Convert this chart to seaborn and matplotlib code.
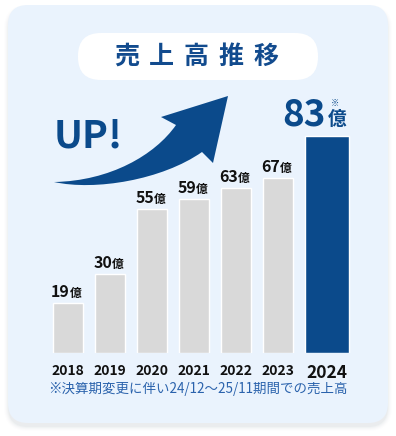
import matplotlib

matplotlib.use("Agg")
import matplotlib.pyplot as plt  # noqa: E402
import seaborn as sns  # noqa: E402
from matplotlib.patches import FancyBboxPatch, PathPatch  # noqa: E402
from matplotlib.path import Path  # noqa: E402

# --- data -------------------------------------------------------------------
YEARS = ["2018", "2019", "2020", "2021", "2022", "2023", "2024"]
SALES = [19, 30, 55, 59, 63, 67, 83]
UNIT = "億"
TITLE = "売上高推移"
BADGE = "UP!"
NOTE = "※決算期変更に伴い24/12～25/11期間での売上高"

# --- style ------------------------------------------------------------------
W, H = 396, 436
GRAY = "#D9D9D9"
NAVY = "#0B4A8B"
CARD = "#EAF3FD"
INK = "#111111"
TITLE_BLUE = "#124B8E"
NOTE_BLUE = "#2A62AC"
PX = 0.72  # points per pixel at dpi 100

sns.set_style("white")
plt.rcParams["font.family"] = ["Noto Sans CJK JP", "DejaVu Sans"]

fig = plt.figure(figsize=(W / 100, H / 100), dpi=100)
fig.patch.set_facecolor("white")

# background / decoration layer in pixel coordinates (y downwards)
bg = fig.add_axes([0, 0, 1, 1])
bg.set_xlim(0, W)
bg.set_ylim(H, 0)
bg.axis("off")

# soft card shadow, mostly below the card
for i, a in enumerate([0.05, 0.035, 0.025, 0.015, 0.01]):
    bg.add_patch(FancyBboxPatch(
        (8 - i, 9 - i), 380 + 2 * i, 418 + 2 * i,
        boxstyle=f"round,pad=0,rounding_size={20 + i}",
        fc="#6F7C8C", ec="none", alpha=a, zorder=0))
bg.add_patch(FancyBboxPatch(
    (8, 5), 380, 418, boxstyle="round,pad=0,rounding_size=20",
    fc=CARD, ec="none", zorder=1))

# title pill
bg.add_patch(FancyBboxPatch(
    (78, 33), 240, 47, boxstyle="round,pad=0,rounding_size=23",
    fc="white", ec="none", zorder=2))
for i, ch in enumerate(TITLE):
    bg.text(127 + 34.7 * i, 57, ch, ha="center", va="center",
            fontsize=18, fontweight="bold", color=TITLE_BLUE, zorder=3)

# curved "UP!" arrow
verts = [
    (54, 182),
    (95, 191), (162, 180), (202, 152),
    (213, 163),
    (228, 96),
    (161, 117),
    (176, 125),
    (155, 155), (110, 181), (54, 182),
    (54, 182),
]
codes = [Path.MOVETO,
         Path.CURVE4, Path.CURVE4, Path.CURVE4,
         Path.LINETO, Path.LINETO, Path.LINETO, Path.LINETO,
         Path.CURVE4, Path.CURVE4, Path.CURVE4,
         Path.CLOSEPOLY]
bg.add_patch(PathPatch(Path(verts, codes), fc=NAVY, ec="none", zorder=2))
bg.text(54, 147, BADGE, ha="left", va="baseline", fontsize=28,
        fontweight="bold", color=NAVY, zorder=3)

bg.text(197.5, 389, NOTE, ha="center", va="center", fontsize=9.7,
        color=NOTE_BLUE, zorder=3)

# --- bar chart ----------------------------------------------------------------
STEP = 42.0          # pixels between bar centres
BASE = 352.7         # baseline, pixels from top
SCALE = 2.61         # pixels per 億
ax_left = 68 - STEP / 2
ax_h = 252.7
ax = fig.add_axes([ax_left / W, (H - BASE) / H, STEP * 7.25 / W, ax_h / H])
ax.set_facecolor("none")

colors = [GRAY] * (len(YEARS) - 1) + [NAVY]
sns.barplot(x=YEARS, y=SALES, hue=YEARS, palette=colors, legend=False,
            width=30 / STEP, saturation=1, ax=ax, zorder=3)

# the latest year is drawn as a wider, highlighted bar
last = ax.patches[len(YEARS) - 1]
last.set_width(44 / STEP)
last.set_x(len(YEARS) - 1 + 7 / STEP - 22 / STEP)
last_c = len(YEARS) - 1 + 7 / STEP

ax.set_xlim(-0.5, 6.75)
ax.set_ylim(0, ax_h / SCALE)
ax.set_xticks(list(range(len(YEARS) - 1)) + [last_c])
ax.set_xticklabels(YEARS)
ax.tick_params(axis="x", length=0, pad=8)
for i, lab in enumerate(ax.get_xticklabels()):
    lab.set_fontweight("bold")
    lab.set_color(INK)
    lab.set_fontsize(12.5 if i == len(YEARS) - 1 else 10)
ax.set_yticks([])
ax.set_xlabel("")
ax.set_ylabel("")
sns.despine(ax=ax, left=True, bottom=True)

for i, v in enumerate(SALES[:-1]):
    ax.annotate(str(v), xy=(i, v), xytext=(2 * PX, 6 * PX),
                textcoords="offset points", ha="right", va="baseline",
                fontsize=11.5, fontweight="bold", color=INK)
    ax.annotate(UNIT, xy=(i, v), xytext=(2 * PX, 6 * PX),
                textcoords="offset points", ha="left", va="baseline",
                fontsize=8.5, fontweight="bold", color=INK)

v = SALES[-1]
ax.annotate(str(v), xy=(last_c, v), xytext=(-1 * PX, 11 * PX),
            textcoords="offset points", ha="right", va="baseline",
            fontsize=26.5, fontweight="bold", color=NAVY)
ax.annotate(UNIT, xy=(last_c, v), xytext=(1 * PX, 11 * PX),
            textcoords="offset points", ha="left", va="baseline",
            fontsize=13.5, fontweight="bold", color=NAVY)
ax.annotate("※", xy=(last_c, v), xytext=(4 * PX, 30 * PX),
            textcoords="offset points", ha="left", va="baseline",
            fontsize=6, color=NAVY)

fig.savefig("out.png", dpi=100)
